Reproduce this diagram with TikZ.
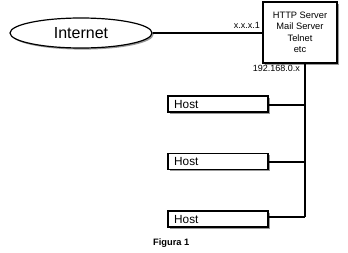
\documentclass[tikz,border=0pt]{standalone}
\usepackage{fontspec}
\setmainfont{Liberation Sans}
\usetikzlibrary{shadows,shapes.geometric}
\begin{document}
\begin{tikzpicture}[x=1pt,y=-1pt,
  box/.style={draw=black,line width=1.2pt,fill=white,drop shadow={shadow xshift=1.6pt,shadow yshift=-1.6pt,fill=black!50,opacity=0.8}},
  hostbox/.style={box,minimum width=100pt,minimum height=16pt,inner sep=0pt},
  hosttext/.style={anchor=west,inner sep=0pt,font=\fontsize{11.8}{13}\selectfont},
  wire/.style={line width=1.2pt},
  small/.style={font=\fontsize{9}{10}\selectfont,inner sep=0pt}]
\useasboundingbox (0,0) rectangle (348,252);
\node[box,ellipse,minimum width=142pt,minimum height=30pt,inner sep=0pt,font=\fontsize{16}{18}\selectfont] (inet) at (81,33) {Internet};
\node[box,minimum width=74pt,minimum height=61pt,inner sep=0pt,align=center,font=\fontsize{9.3}{11.5}\selectfont] (srv) at (300,32.5) {HTTP Server\\Mail Server\\Telnet\\etc};
\node[hostbox] (h1) at (218,104) {};
\node[hostbox] (h2) at (218,161.5) {};
\node[hostbox] (h3) at (218,219) {};
\node[hosttext] (t1) at (174,104) {Host};
\node[hosttext] (t2) at (174,161.5) {Host};
\node[hosttext] (t3) at (174,219) {Host};
\coordinate (b1) at (305,105);
\coordinate (b2) at (305,162);
\coordinate (b3) at (305,217);
\draw[wire] (inet.east) -- (inet.east -| srv.west);
\draw[wire] (srv.south -| b3) -- (b3);
\draw[wire] (h1.east |- b1) -- (b1);
\draw[wire] (h2.east |- b2) -- (b2);
\draw[wire] (h3.east |- b3) -- (b3);
\node[small,anchor=south east] (ip1) at (260,29) {x.x.x.1};
\node[small,anchor=east] (ip2) at (300,68) {192.168.0.x};
\node[anchor=west,inner sep=0pt,font=\bfseries\fontsize{9.3}{10}\selectfont] (fig) at (153,243) {Figura 1};
\end{tikzpicture}
\end{document}
